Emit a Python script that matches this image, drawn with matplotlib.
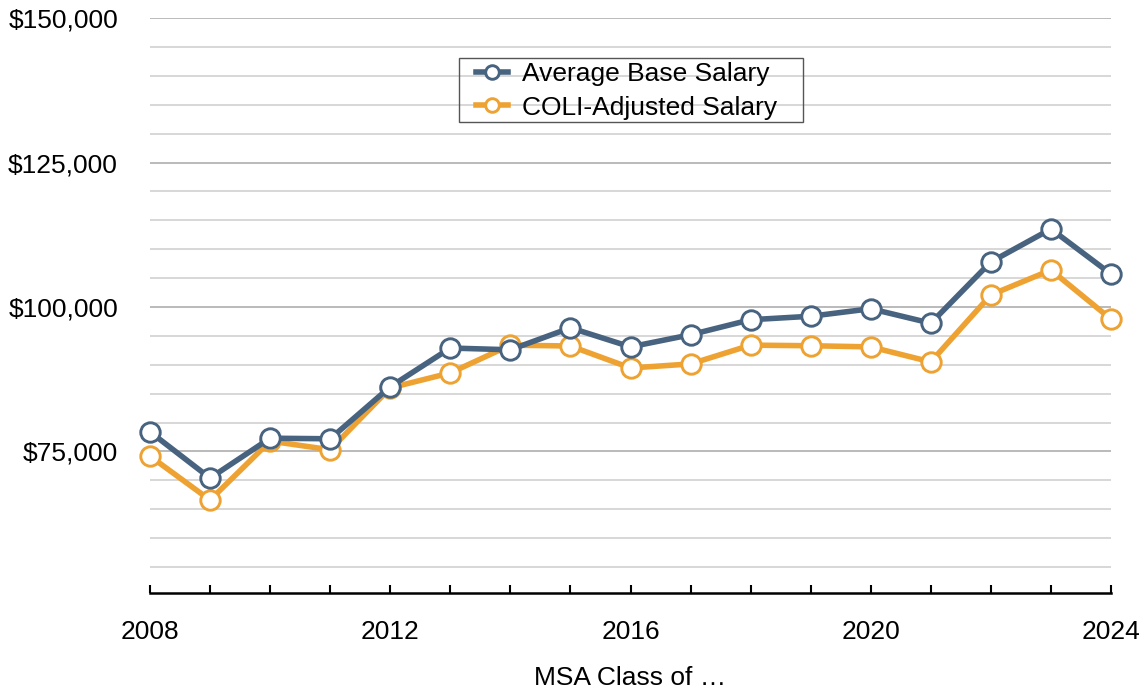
import matplotlib
matplotlib.use("Agg")
import matplotlib.pyplot as plt
from matplotlib.patches import Rectangle
from matplotlib.ticker import FuncFormatter, MultipleLocator

years = list(range(2008, 2025))
base_salary = [78400, 70400, 77300, 77200, 86200, 92900, 92600, 96400, 93100,
               95200, 97800, 98400, 99700, 97200, 107800, 113500, 105700]
coli_salary = [74200, 66600, 76800, 75300, 86000, 88600, 93400, 93250, 89450,
               90150, 93400, 93300, 93100, 90500, 102100, 106400, 97900]
xticks = [2008, 2012, 2016, 2020, 2024]
yticks = [75000, 100000, 125000, 150000]

BLUE = "#47637f"
ORANGE = "#eea232"
W, H = 1148, 689

plt.rcParams["font.family"] = ["Liberation Sans", "DejaVu Sans"]

fig = plt.figure(figsize=(W / 100, H / 100), dpi=100)
ax = fig.add_axes([150 / W, 1 - 596 / H, 961 / W, 578 / H])

for vals, color, label in [(coli_salary, ORANGE, "COLI-Adjusted Salary"),
                           (base_salary, BLUE, "Average Base Salary")]:
    ax.plot(years, vals, color=color, lw=4.0, marker="o", ms=14,
            mfc="white", mec=color, mew=2.1, label=label, clip_on=False, zorder=3)

ax.set_xlim(2008, 2024)
ax.set_ylim(50000, 150000)

# grid: light every 5k, darker every 25k
for v in range(55000, 150001, 5000):
    c = "#b4b4b4" if v % 25000 == 0 else "#d4d4d4"
    ax.axhline(v, color=c, lw=1.3, zorder=1)

ax.set_yticks(yticks)
ax.yaxis.set_major_formatter(FuncFormatter(lambda v, p: f"${v:,.0f}"))
ax.tick_params(axis="y", length=0, pad=23, labelsize=19)

ax.set_xticks(xticks)
ax.xaxis.set_minor_locator(MultipleLocator(1))
ax.tick_params(axis="x", which="both", direction="in", length=6, width=1.5,
               color="black", labelsize=19, pad=19)

for s in ["left", "right", "top"]:
    ax.spines[s].set_visible(False)
ax.spines["bottom"].set_linewidth(1.8)
ax.spines["bottom"].set_position(("outward", -2))

ax.set_xlabel("MSA Class of \u2026", fontsize=19, labelpad=16)

# legend: box drawn by hand so the side padding can differ from the top/bottom
fig.patches.append(Rectangle((459 / W, 1 - 122 / H), 344 / W, 64 / H,
                             transform=fig.transFigure, fill=False,
                             edgecolor="#555555", lw=1.0))
handles, labels = ax.get_legend_handles_labels()
leg = fig.legend(handles[::-1], labels[::-1], loc="upper left",
                 bbox_to_anchor=(476 / W, 1 - 62 / H), fontsize=19,
                 frameon=False, handlelength=1.2, borderpad=0,
                 labelspacing=0.36, handletextpad=0.55, borderaxespad=0,
                 markerscale=0.7)

fig.savefig("out.png", dpi=100)
